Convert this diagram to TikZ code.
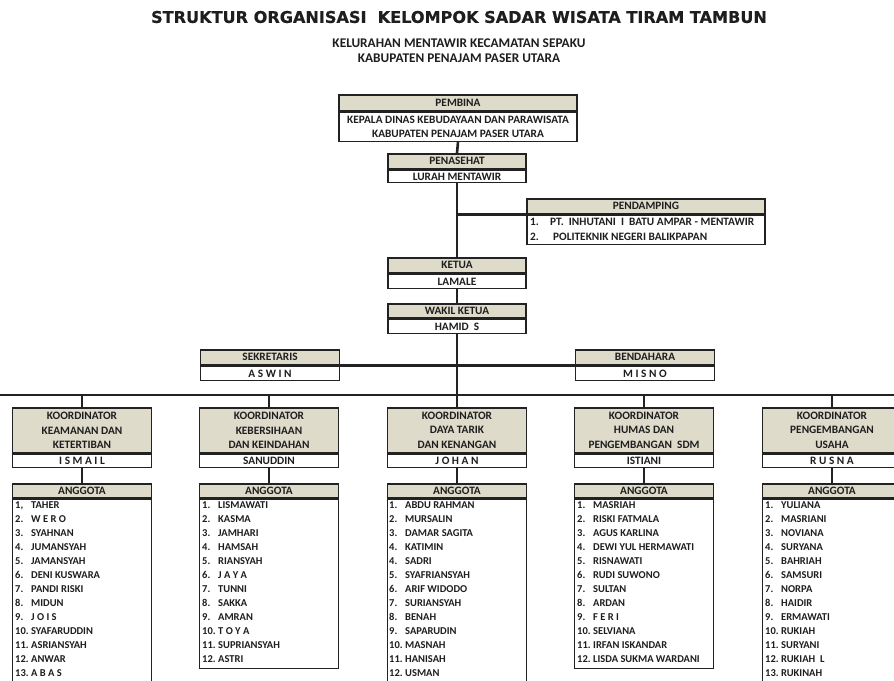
\documentclass[tikz,border=0pt]{standalone}
\usepackage{fontspec}
\setmainfont{Carlito}[BoldFont={Carlito Bold}]
\newfontfamily\titlefont{DejaVu Sans}[BoldFeatures={FakeBold=0.5}]
\usetikzlibrary{backgrounds}
\definecolor{hc}{RGB}{222,219,203}
\definecolor{bc}{RGB}{34,34,34}
\definecolor{tc}{RGB}{30,30,30}
\newcommand\bx{\fontsize{10.5}{14.5}\selectfont\bfseries}
\newcommand\bxl{\fontsize{11.3}{14.5}\selectfont\bfseries}
\newcommand\members[3]{%
  \foreach \n/\t [count=\i] in {#3} {%
    \node[item] (a#1n\i) at ({#2+3},{494.5+14.03*\i}) {\n};
    \node[item] (a#1t\i) at ({#2+19},{494.5+14.03*\i}) {\t};
  }}
\begin{document}
\begin{tikzpicture}[x=1pt,y=-1pt,
 hd/.style={draw=bc,line width=1.6pt,fill=hc,inner sep=0pt,anchor=north,align=center,font=\bx,text=tc},
 bd/.style={draw=bc,line width=1.6pt,fill=white,inner sep=0pt,anchor=north,align=center,font=\bx,text=tc},
 big/.style={font=\bxl},
 wire/.style={draw=bc,line width=2.6pt},
 item/.style={anchor=base west,inner sep=0pt,font=\bx,text=tc},
 ttl/.style={inner sep=0pt,text=tc}]
\useasboundingbox (0,0) rectangle (894,680);
\clip (0,0) rectangle (894,680);

% titles
\node[ttl,font=\titlefont\bfseries\fontsize{16.1}{19}\selectfont] (title) at (459,17) {STRUKTUR ORGANISASI\ \ KELOMPOK SADAR WISATA TIRAM TAMBUN};
\node[ttl,font=\fontsize{13.3}{15}\selectfont\bfseries] (sub1) at (459,43) {KELURAHAN MENTAWIR KECAMATAN SEPAKU};
\node[ttl,font=\fontsize{13.3}{15}\selectfont\bfseries] (sub2) at (459,58) {KABUPATEN PENAJAM PASER UTARA};

% top chain
\node[hd,big,minimum width=238,minimum height=16] (pbH) at (458,94) {PEMBINA};
\node[bd,big,minimum width=238,minimum height=29] (pbB) at (pbH.south) {KEPALA DINAS KEBUDAYAAN DAN PARAWISATA\\KABUPATEN PENAJAM PASER UTARA};

\node[hd,big,minimum width=138,minimum height=15] (psH) at (457,153) {PENASEHAT};
\node[bd,big,minimum width=138,minimum height=12] (psB) at (psH.south) {LURAH MENTAWIR};

\node[hd,big,minimum width=238,minimum height=15] (pdH) at (646,198) {PENDAMPING};
\node[bd,big,minimum width=238,minimum height=29] (pdB) at (pdH.south) {};
\node[item,font=\bxl] (pd1n) at (530,225) {1.};
\node[item,font=\bxl] (pd1t) at (550,225) {PT.\ \ INHUTANI\ \ I\ \ BATU AMPAR - MENTAWIR};
\node[item,font=\bxl] (pd2n) at (530,240) {2.};
\node[item,font=\bxl] (pd2t) at (553,240) {POLITEKNIK NEGERI BALIKPAPAN};

\node[hd,big,minimum width=138,minimum height=15] (ktH) at (457,257) {KETUA};
\node[bd,big,minimum width=138,minimum height=14] (ktB) at (ktH.south) {LAMALE};

\node[hd,big,minimum width=138,minimum height=14] (wkH) at (457,303) {WAKIL KETUA};
\node[bd,big,minimum width=138,minimum height=14] (wkB) at (wkH.south) {HAMID\ \ S};

\node[hd,big,minimum width=139,minimum height=15] (skH) at (270,349) {SEKRETARIS};
\node[bd,big,minimum width=139,minimum height=14] (skB) at (skH.south) {A S W I N};

\node[hd,big,minimum width=139,minimum height=15] (bdH) at (645,349) {BENDAHARA};
\node[bd,big,minimum width=139,minimum height=14] (bdB) at (bdH.south) {M I S N O};

% coordinators
\node[hd,big,minimum width=139,minimum height=45] (c1H) at (82,407) {KOORDINATOR\\KEAMANAN DAN\\KETERTIBAN};
\node[bd,big,minimum width=139,minimum height=13] (c1B) at (c1H.south) {I S M A I L};
\node[hd,big,minimum width=139,minimum height=45] (c2H) at (269,407) {KOORDINATOR\\KEBERSIHAAN\\DAN KEINDAHAN};
\node[bd,big,minimum width=139,minimum height=13] (c2B) at (c2H.south) {SANUDDIN};
\node[hd,big,minimum width=139,minimum height=45] (c3H) at (457,407) {KOORDINATOR\\DAYA TARIK\\DAN KENANGAN};
\node[bd,big,minimum width=139,minimum height=13] (c3B) at (c3H.south) {J O H A N};
\node[hd,big,minimum width=139,minimum height=45] (c4H) at (644,407) {KOORDINATOR\\HUMAS DAN\\PENGEMBANGAN\ \ SDM};
\node[bd,big,minimum width=139,minimum height=13] (c4B) at (c4H.south) {ISTIANI};
\node[hd,big,minimum width=139,minimum height=45] (c5H) at (832,407) {KOORDINATOR\\PENGEMBANGAN\\USAHA};
\node[bd,big,minimum width=139,minimum height=13] (c5B) at (c5H.south) {R U S N A};

% anggota
\node[hd,big,minimum width=139,minimum height=14] (a1H) at (82,483) {ANGGOTA};
\node[bd,minimum width=139,minimum height=210] (a1B) at (a1H.south) {};
\node[hd,big,minimum width=139,minimum height=14] (a2H) at (269,483) {ANGGOTA};
\node[bd,minimum width=139,minimum height=169] (a2B) at (a2H.south) {};
\node[hd,big,minimum width=139,minimum height=14] (a3H) at (457,483) {ANGGOTA};
\node[bd,minimum width=139,minimum height=210] (a3B) at (a3H.south) {};
\node[hd,big,minimum width=139,minimum height=14] (a4H) at (644,483) {ANGGOTA};
\node[bd,minimum width=139,minimum height=169] (a4B) at (a4H.south) {};
\node[hd,big,minimum width=139,minimum height=14] (a5H) at (832,483) {ANGGOTA};
\node[bd,minimum width=139,minimum height=210] (a5B) at (a5H.south) {};

\members{1}{12}{{1,}/TAHER, 2./W E R O, 3./SYAHNAN, 4./JUMANSYAH, 5./JAMANSYAH, 6./DENI KUSWARA, 7./PANDI RISKI, 8./MIDUN, 9./J O I S, 10./SYAFARUDDIN, 11./ASRIANSYAH, 12./ANWAR, 13./A B A S}
\members{2}{199}{1./LISMAWATI, 2./KASMA, 3./JAMHARI, 4./HAMSAH, 5./RIANSYAH, 6./J A Y A, 7./TUNNI, 8./SAKKA, 9./AMRAN, 10./T O Y A, 11./SUPRIANSYAH, 12./ASTRI}
\members{3}{386}{1./ABDU RAHMAN, 2./MURSALIN, 3./DAMAR SAGITA, 4./KATIMIN, 4./SADRI, 5./SYAFRIANSYAH, 6./ARIF WIDODO, 7./SURIANSYAH, 8./BENAH, 9./SAPARUDIN, 10./MASNAH, 11./HANISAH, 12./USMAN}
\members{4}{574}{1./MASRIAH, 2./RISKI FATMALA, 3./AGUS KARLINA, 4./DEWI YUL HERMAWATI, 5./RISNAWATI, 6./RUDI SUWONO, 7./SULTAN, 8./ARDAN, 9./F E R I, 10./SELVIANA, 11./IRFAN ISKANDAR, 12./LISDA SUKMA WARDANI}
\members{5}{762}{1./YULIANA, 2./MASRIANI, 3./NOVIANA, 4./SURYANA, 5./BAHRIAH, 6./SAMSURI, 7./NORPA, 8./HAIDIR, 9./ERMAWATI, 10./RUKIAH, 11./SURYANI, 12./RUKIAH\ \ L, 13./RUKINAH}

% connectors
\begin{pgfonlayer}{background}
\fill[white] (0,0) rectangle (894,680);
\coordinate (pdj) at (pdH.south west -| ktH.north);
\coordinate (bus) at (457,395);
\coordinate (busL) at (0,395);
\coordinate (busR) at (894,395);
\draw[wire] (pbB.south) -- (psH.north);
\draw[wire] (psB.south) -- (ktH.north);
\draw[wire] (pdj) -- (pdH.south west);
\draw[wire] (ktB.south) -- (wkH.north);
\draw[wire] (wkB.south) -- (bus);
\draw[wire] (skH.south east) -- (bdH.south west);
\draw[wire] (busL) -- (busR);
\foreach \k in {1,...,5} {
  \draw[wire] (c\k H.north |- bus) -- (c\k H.north);
  \draw[wire] (c\k B.south) -- (a\k H.north);
}
\end{pgfonlayer}
\end{tikzpicture}
\end{document}
